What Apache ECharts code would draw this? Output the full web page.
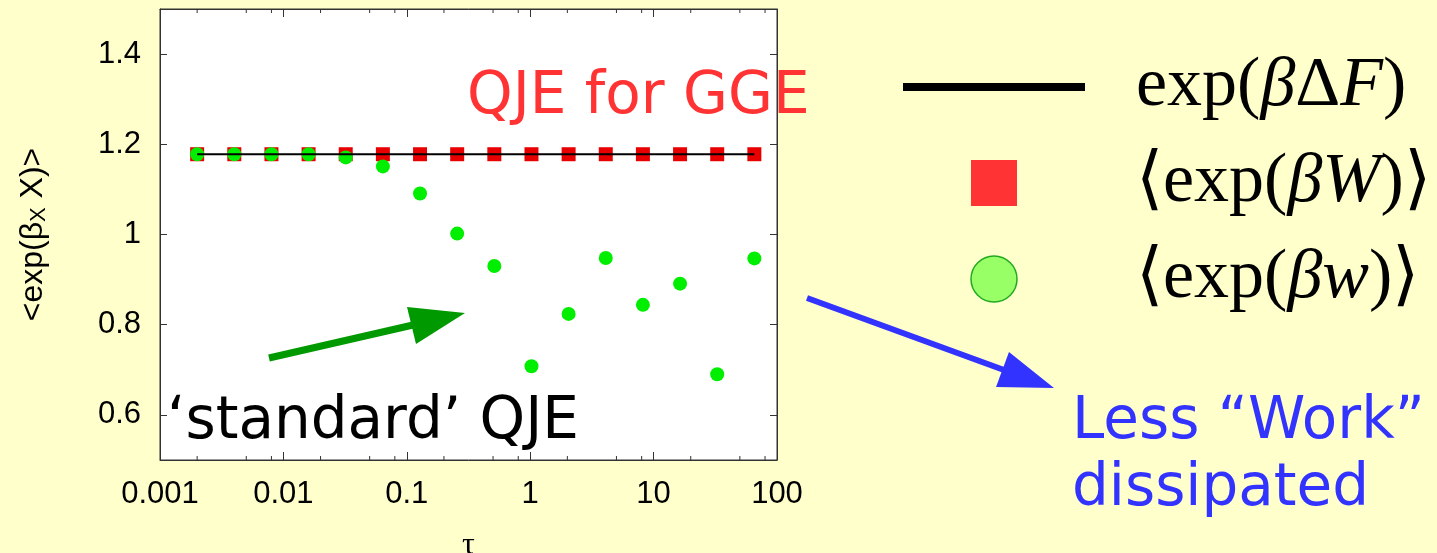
<!DOCTYPE html>
<html>
<head>
<meta charset="utf-8">
<script src="https://cdn.jsdelivr.net/npm/echarts@6/dist/echarts.min.js"></script>
<style>
  html, body { margin: 0; padding: 0; background: #ffffcc; }
  #chart { width: 1437px; height: 553px; }
</style>
</head>
<body>
<div id="chart"></div>
<script>
// Protocol durations (log-spaced, doubling)
const tau = [0.002, 0.004, 0.008, 0.016, 0.032, 0.064, 0.128, 0.256,
             0.512, 1.024, 2.048, 4.096, 8.192, 16.384, 32.768, 65.536];
// exp(beta * DeltaF): constant reference line
const expBetaDeltaF = [1.178, 1.178, 1.178, 1.178, 1.178, 1.178, 1.178, 1.178,
                       1.178, 1.178, 1.178, 1.178, 1.178, 1.178, 1.178, 1.178];
// <exp(beta W)> : generalized work
const expBetaW = [1.178, 1.178, 1.178, 1.178, 1.178, 1.178, 1.178, 1.178,
                  1.178, 1.178, 1.178, 1.178, 1.178, 1.178, 1.178, 1.178];
// <exp(beta w)> : standard work
const expBetaw = [1.178, 1.178, 1.178, 1.178, 1.171, 1.151, 1.091, 1.002,
                  0.930, 0.708, 0.824, 0.948, 0.844, 0.891, 0.690, 0.947];

const xTickLabels = ['0.001', '0.01', '0.1', '1', '10', '100'];
const xMinorTicks = [0.002, 0.005, 0.008, 0.02, 0.05, 0.08, 0.2, 0.5, 0.8,
                     2, 5, 8, 20, 50, 80];
const yTickValues = [0.6, 0.8, 1.0, 1.2, 1.4];
const yMin = 0.5, yMax = 1.5;
const xMin = 0.001, xMax = 100;

const seriesNames = ['exp(βΔF)', '⟨exp(βW)⟩', '⟨exp(βw)⟩'];
const legendRich = {
  'exp(βΔF)': '{g| }{u|exp(}{i|β}{u|Δ}{i|F}{u|)}',
  '⟨exp(βW)⟩': '{g| }{u|⟨exp(}{i|βW}{u|)⟩}',
  '⟨exp(βw)⟩': '{g| }{u|⟨exp(}{i|βw}{u|)⟩}'
};

const chart = echarts.init(document.getElementById('chart'));

const frame = { show: true, onZero: false, lineStyle: { color: '#333', width: 1 } };
const tickFont = { fontFamily: 'Liberation Sans', fontSize: 31, color: '#000' };

function xLabel(v) {
  const idx = Math.round(Math.log10(v) - Math.log10(xMin));
  return xTickLabels[idx] !== undefined ? xTickLabels[idx] : '';
}

chart.setOption({
  animation: false,
  backgroundColor: '#ffffcc',
  grid: {
    left: 160, top: 9, right: 660, bottom: 93,
    outerBoundsMode: 'none', containLabel: false,
    show: true, backgroundColor: '#ffffff', borderColor: '#333', borderWidth: 1
  },
  xAxis: [
    {
      type: 'log', logBase: 10, min: xMin, max: xMax, position: 'bottom',
      name: 'τ', nameLocation: 'middle', nameGap: 70, nameMoveOverlap: false,
      nameTextStyle: { fontFamily: 'Liberation Serif', fontSize: 32, color: '#000' },
      axisLine: frame,
      axisTick: { inside: true, length: 8, lineStyle: { color: '#333' } },
      axisLabel: Object.assign({ margin: 19, formatter: xLabel, showMinLabel: true, showMaxLabel: true }, tickFont),
      splitLine: { show: false }, minorTick: { show: false }
    },
    {
      type: 'log', logBase: 10, min: xMin, max: xMax, position: 'top',
      axisLine: frame,
      axisTick: { inside: true, length: 8, lineStyle: { color: '#333' } },
      axisLabel: { show: false }, splitLine: { show: false }
    }
  ],
  yAxis: [
    {
      type: 'value', min: yMin, max: yMax, position: 'left',
      name: '<exp(β{s|X} X)>', nameLocation: 'middle', nameGap: 110, nameRotate: 90, nameMoveOverlap: false,
      nameTextStyle: {
        fontFamily: 'Liberation Sans', fontSize: 32, color: '#000',
        rich: { s: { fontFamily: 'Liberation Sans', fontSize: 22, color: '#000', verticalAlign: 'bottom', padding: [12, 0, 0, 0] } }
      },
      axisLine: frame,
      axisTick: { customValues: yTickValues, inside: true, length: 7, lineStyle: { color: '#333' } },
      axisLabel: Object.assign({ customValues: yTickValues, margin: 19 }, tickFont),
      splitLine: { show: false }
    },
    {
      type: 'value', min: yMin, max: yMax, position: 'right',
      axisLine: frame,
      axisTick: { customValues: yTickValues, inside: true, length: 7, lineStyle: { color: '#333' } },
      axisLabel: { show: false }, splitLine: { show: false }
    }
  ],
  legend: {
    orient: 'vertical', left: 898, top: 47,
    itemWidth: 182, itemHeight: 46, itemGap: 26,
    selectedMode: false,
    data: [
      { name: seriesNames[0], icon: 'path://M0,0H182V8H0Z', itemStyle: { color: '#000', borderWidth: 0, opacity: 1 } },
      { name: seriesNames[1], icon: 'path://M0,0H46V46H0Z', itemStyle: { color: '#ff3333', borderWidth: 0, opacity: 1 } },
      { name: seriesNames[2], icon: 'circle', itemStyle: { color: '#99ff66', borderColor: '#22aa22', borderWidth: 1.5, opacity: 1 } }
    ],
    formatter: name => legendRich[name],
    textStyle: {
      rich: {
        g: { width: 46 },
        u: { fontFamily: 'Liberation Serif', fontSize: 70, color: '#000', lineHeight: 70 },
        i: { fontFamily: 'Liberation Serif', fontSize: 70, fontStyle: 'italic', color: '#000', lineHeight: 70 }
      }
    }
  },
  series: [
    {
      // minor log ticks along the bottom and top edges
      type: 'custom', silent: true, xAxisIndex: 0, yAxisIndex: 0, z: 1,
      data: xMinorTicks.map(v => [v, yMin]),
      renderItem(params, api) {
        const b = api.coord([api.value(0), yMin]);
        const t = api.coord([api.value(0), yMax]);
        const st = { stroke: '#333', lineWidth: 1 };
        return {
          type: 'group', children: [
            { type: 'line', shape: { x1: b[0], y1: b[1], x2: b[0], y2: b[1] - 4 }, style: st },
            { type: 'line', shape: { x1: t[0], y1: t[1], x2: t[0], y2: t[1] + 4 }, style: st }
          ]
        };
      }
    },
    {
      name: seriesNames[1], type: 'scatter', symbol: 'rect', symbolSize: 14, z: 2,
      itemStyle: { color: '#e80000', opacity: 1 },
      data: tau.map((t, i) => [t, expBetaW[i]])
    },
    {
      name: seriesNames[2], type: 'scatter', symbol: 'circle', symbolSize: 14, z: 3,
      itemStyle: { color: '#00ee00', opacity: 1 },
      data: tau.map((t, i) => [t, expBetaw[i]])
    },
    {
      name: seriesNames[0], type: 'line', showSymbol: false, symbol: 'none', z: 4,
      color: '#000', lineStyle: { color: '#000', width: 2 },
      data: tau.map((t, i) => [t, expBetaDeltaF[i]])
    }
  ],
  graphic: [
    { type: 'text', x: 467, y: 98, z: 10,
      style: { text: 'QJE for GGE', fill: '#ff3333', fontFamily: 'DejaVu Sans', fontSize: 58, align: 'left', verticalAlign: 'middle' } },
    { type: 'text', x: 167, y: 423, z: 10,
      style: { text: '‘standard’ QJE', fill: '#000', fontFamily: 'DejaVu Sans', fontSize: 58, align: 'left', verticalAlign: 'middle' } },
    { type: 'text', x: 1072, y: 423, z: 10,
      style: { text: 'Less “Work”', fill: '#3333ff', fontFamily: 'DejaVu Sans', fontSize: 58, align: 'left', verticalAlign: 'middle' } },
    { type: 'text', x: 1072, y: 490, z: 10,
      style: { text: 'dissipated', fill: '#3333ff', fontFamily: 'DejaVu Sans', fontSize: 58, align: 'left', verticalAlign: 'middle' } },
    // green arrow
    { type: 'line', z: 10, shape: { x1: 269, y1: 358, x2: 413, y2: 325 },
      style: { stroke: '#009900', lineWidth: 7 } },
    { type: 'polygon', z: 10, shape: { points: [[407, 307], [416, 344], [465, 313]] },
      style: { fill: '#009900' } },
    // blue arrow
    { type: 'line', z: 10, shape: { x1: 807, y1: 298, x2: 1004, y2: 370 },
      style: { stroke: '#3333ff', lineWidth: 6 } },
    { type: 'polygon', z: 10, shape: { points: [[1009, 352], [996, 387], [1054, 388]] },
      style: { fill: '#3333ff' } }
  ]
});
</script>
</body>
</html>
